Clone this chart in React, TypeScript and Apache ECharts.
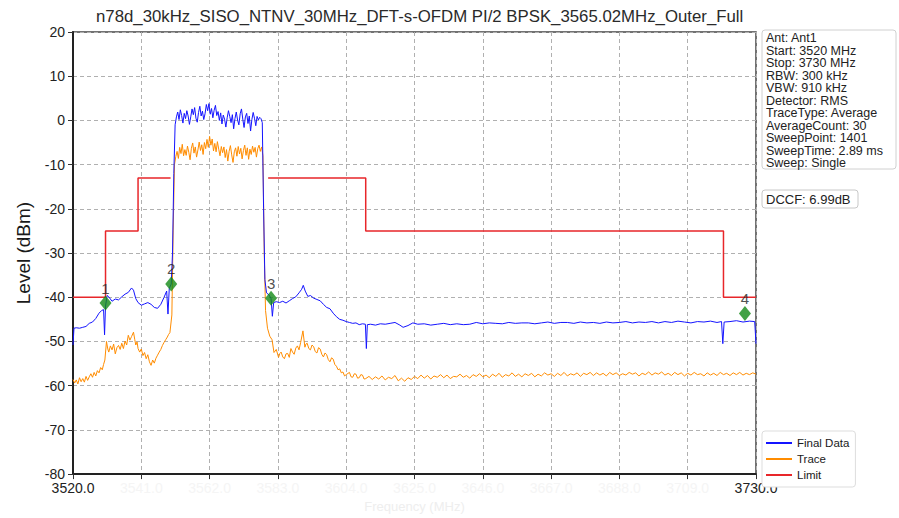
import React, { useEffect, useRef } from "react";
import * as echarts from "echarts";

const TITLE = "n78d_30kHz_SISO_NTNV_30MHz_DFT-s-OFDM PI/2 BPSK_3565.02MHz_Outer_Full";
const START_FREQ = 3520;
const STOP_FREQ = 3730;

// Final Data trace [MHz, dBm]
const finalData: [number, number][] = [
  [3520.0, -50.8], [3520.3, -47.0], [3521, -46.9], [3522, -47.0], [3523, -46.8], [3524, -46.6],
  [3525, -45.9], [3526, -45.6], [3527, -44.8], [3528, -43.6], [3528.8, -43.0], [3529.4, -42.8],
  [3529.7, -48.5], [3530.0, -42.0], [3530.5, -39.6], [3531, -39.9], [3532, -40.9], [3533, -40.4],
  [3534, -40.6], [3535, -39.9], [3536, -39.3], [3537, -38.9], [3538, -37.9], [3538.6, -38.4],
  [3539.3, -40.3], [3540, -41.2], [3541, -41.8], [3542, -41.5], [3543, -41.2], [3544, -41.6],
  [3545, -42.3], [3546, -42.5], [3547, -41.6], [3548, -40.0], [3548.8, -38.6], [3549.2, -43.8],
  [3549.6, -38.0], [3550.2, -37.0], [3550.6, -30.0], [3551.0, -12.0], [3551.4, -1.0],
  [3551.8, 0.8], [3552.2, 1.9], [3552.6, 0.2], [3553.0, 2.4], [3553.4, 1.1], [3553.8, -0.6],
  [3554.2, 1.6], [3554.6, 0.4], [3555.0, 2.2], [3555.4, 1.0], [3555.8, -0.9], [3556.2, 0.8],
  [3556.6, 2.6], [3557.0, 1.3], [3557.4, 2.9], [3557.8, 0.5], [3558.2, -0.4], [3558.6, 1.8],
  [3559.0, 3.2], [3559.4, 1.0], [3559.8, 2.1], [3560.2, 0.2], [3560.6, 1.5], [3561.0, 3.6],
  [3561.4, 2.2], [3561.8, 3.8], [3562.2, 1.4], [3562.6, 2.7], [3563.0, 0.6], [3563.4, 2.3],
  [3563.8, 3.4], [3564.2, 1.1], [3564.6, 2.0], [3565.0, 0.0], [3565.4, 1.7], [3565.8, -0.8],
  [3566.2, 1.2], [3566.6, 0.3], [3567.0, -1.5], [3567.4, 0.6], [3567.8, 2.2], [3568.2, 0.9],
  [3568.6, -0.5], [3569.0, 1.3], [3569.4, -1.9], [3569.8, 0.4], [3570.2, 1.9], [3570.6, 0.1],
  [3571.0, -1.0], [3571.4, 1.5], [3571.8, 2.6], [3572.2, 0.3], [3572.6, -1.6], [3573.0, 0.8],
  [3573.4, 1.6], [3573.8, -0.7], [3574.2, 1.0], [3574.6, -2.4], [3575.0, 0.2], [3575.4, 1.8],
  [3575.8, 0.5], [3576.2, -1.2], [3576.6, 0.9], [3577.0, 0.1], [3577.4, 0.7], [3577.8, 0.4],
  [3578.2, -0.5], [3578.6, -20.0], [3579.0, -36.0], [3579.5, -39.0], [3580.3, -39.5],
  [3580.9, -40.3], [3581.3, -44.3], [3581.7, -41.2], [3582.5, -41.0], [3583.5, -41.2],
  [3584.5, -40.9], [3585.5, -41.3], [3586.5, -40.8], [3587.5, -40.3], [3588.5, -39.9],
  [3589.5, -39.0], [3590.3, -38.2], [3590.8, -37.3], [3591.4, -38.6], [3592.2, -39.8],
  [3593, -39.6], [3594, -40.2], [3595, -40.5], [3596, -40.8], [3597, -41.6], [3598, -42.3],
  [3599, -42.6], [3600, -43.6], [3601, -44.4], [3602, -45.0], [3603, -45.2], [3604, -45.5],
  [3605, -45.7], [3606, -45.9], [3607, -45.8], [3608, -46.2], [3609, -46.0], [3609.9, -46.1],
  [3610.2, -51.6], [3610.5, -46.2], [3611.5, -46.1], [3613, -46.3], [3614.5, -46.0], [3616, -46.1],
  [3617.5, -45.9], [3619, -45.7], [3620.5, -46.3], [3621.5, -46.8], [3623, -46.4], [3624.5, -45.8],
  [3626, -46.1], [3628, -46.0], [3630, -46.3], [3632, -46.1], [3634, -45.9], [3636, -46.2],
  [3638, -46.0], [3640, -46.2], [3642, -46.1], [3644, -45.7], [3646, -46.0], [3648, -45.8],
  [3650, -45.9], [3652, -46.0], [3654, -45.7], [3656, -45.9], [3658, -45.8], [3660, -45.8],
  [3662, -46.0], [3664, -45.8], [3666, -45.6], [3668, -45.9], [3670, -45.7], [3672, -45.7],
  [3674, -45.9], [3676, -45.6], [3678, -45.8], [3680, -45.7], [3682, -45.9], [3684, -45.6],
  [3686, -45.8], [3688, -45.7], [3690, -45.5], [3692, -45.8], [3694, -45.6], [3696, -45.7],
  [3698, -45.5], [3700, -45.8], [3702, -45.5], [3704, -45.7], [3706, -45.4], [3708, -45.6],
  [3710, -45.8], [3712, -45.5], [3714, -45.6], [3716, -45.4], [3718, -45.7], [3719.4, -45.5],
  [3719.8, -50.5], [3720.2, -45.6], [3722, -45.5], [3724, -45.3], [3726, -45.6], [3728, -45.4],
  [3729.6, -45.5], [3730, -50.5],
];

// Trace [MHz, dBm]
const traceData: [number, number][] = [
  [3520, -58.6], [3520.5, -59.4], [3521, -58.7], [3521.5, -59.6], [3522, -58.2], [3522.5, -59.1],
  [3523, -58.4], [3523.5, -59.2], [3524, -57.9], [3524.5, -58.8], [3525, -58.0], [3525.5, -57.3],
  [3526, -58.1], [3526.5, -57.0], [3527, -57.8], [3527.5, -56.6], [3528, -57.1], [3528.5, -55.9],
  [3529, -56.4], [3529.4, -55.2], [3529.8, -54.2], [3530.3, -50.0], [3530.7, -51.7],
  [3531, -52.4], [3531.5, -51.0], [3532, -51.9], [3532.5, -50.6], [3533, -52.8], [3533.5, -51.4],
  [3534, -50.9], [3534.5, -51.8], [3535, -50.4], [3535.5, -51.6], [3536, -49.9], [3536.5, -50.8],
  [3537, -48.6], [3537.5, -49.7], [3538, -48.9], [3538.6, -47.9], [3539.0, -49.6], [3539.3, -50.8],
  [3539.7, -50.1], [3540, -51.6], [3540.5, -52.4], [3541, -51.7], [3541.5, -53.2],
  [3542, -52.5], [3542.5, -53.9], [3543, -53.0], [3543.5, -54.6], [3544, -55.4], [3544.5, -54.2],
  [3545, -54.9], [3545.5, -53.8], [3546, -53.1], [3546.5, -52.4], [3547, -51.8], [3547.5, -50.9],
  [3548, -50.2], [3548.5, -49.6], [3549, -49.0], [3549.4, -48.4], [3549.8, -48.0], [3550.4, -44.0],
  [3550.8, -25.0], [3551.2, -10.0],
  [3551.6, -8.2], [3552.0, -7.0], [3552.4, -8.6], [3552.8, -6.1], [3553.2, -7.5], [3553.6, -5.4],
  [3554.0, -8.0], [3554.4, -6.6], [3554.8, -7.9], [3555.2, -5.8], [3555.6, -7.2], [3556.0, -8.9],
  [3556.4, -6.3], [3556.8, -5.1], [3557.2, -7.4], [3557.6, -6.0], [3558.0, -8.3], [3558.4, -6.7],
  [3558.8, -4.9], [3559.2, -6.8], [3559.6, -5.5], [3560.0, -7.7], [3560.4, -5.0], [3560.8, -6.4],
  [3561.2, -4.3], [3561.6, -6.1], [3562.0, -3.6], [3562.4, -5.6], [3562.8, -4.2], [3563.2, -6.9],
  [3563.6, -5.2], [3564.0, -7.1], [3564.4, -4.8], [3564.8, -6.5], [3565.2, -8.0], [3565.6, -5.9],
  [3566.0, -7.3], [3566.4, -6.0], [3566.8, -8.4], [3567.2, -6.6], [3567.6, -9.2], [3568.0, -7.0],
  [3568.4, -5.7], [3568.8, -7.8], [3569.2, -9.5], [3569.6, -7.1], [3570.0, -6.2], [3570.4, -8.1],
  [3570.8, -5.9], [3571.2, -7.6], [3571.6, -6.3], [3572.0, -8.7], [3572.4, -6.8], [3572.8, -5.6],
  [3573.2, -7.9], [3573.6, -6.2], [3574.0, -8.8], [3574.4, -6.5], [3574.8, -7.7], [3575.2, -5.8],
  [3575.6, -7.2], [3576.0, -6.1], [3576.4, -8.3], [3576.8, -6.4], [3577.2, -5.6], [3577.6, -7.0],
  [3578.0, -6.0], [3578.4, -8.0], [3578.8, -30.0], [3579.2, -43.0], [3579.8, -47.0], [3580.5, -48.8],
  [3581.2, -49.6], [3581.8, -52.5], [3582.5, -51.8], [3583.2, -53.6], [3583.6, -52.7], [3584, -52.4],
  [3584.5, -53.5], [3585, -53.9], [3585.5, -52.8], [3586, -52.7], [3586.5, -53.6], [3587, -51.6],
  [3587.5, -52.4], [3588, -52.9], [3588.5, -51.5], [3589, -51.0], [3589.5, -51.9], [3590, -50.2],
  [3590.7, -47.6], [3591.3, -51.3], [3591.6, -50.6], [3592, -50.4], [3592.5, -51.6], [3593, -51.9],
  [3593.5, -50.8], [3594, -51.2], [3594.5, -52.3], [3595, -52.6], [3595.5, -51.4], [3596, -51.7],
  [3596.5, -52.9], [3597, -53.5], [3597.5, -52.6], [3598, -53.0], [3598.5, -54.1], [3599, -54.6],
  [3599.5, -53.7], [3600, -54.0], [3600.5, -55.2], [3601, -55.6], [3601.5, -56.4], [3602, -56.2],
  [3602.5, -57.1], [3603, -56.9], [3603.5, -57.8], [3604, -57.5], [3605, -57.0], [3605.5, -58.0],
  [3606, -58.1], [3606.5, -57.3], [3607, -57.4], [3607.5, -58.3], [3608, -58.2], [3608.5, -57.5],
  [3609, -57.6], [3609.5, -58.5], [3610, -58.4], [3611, -57.9], [3612, -58.6], [3613, -58.0],
  [3614, -58.5], [3615, -57.8], [3616, -58.7], [3617, -58.1], [3618, -58.4], [3619, -57.7],
  [3620, -58.9], [3621, -58.3], [3622, -59.0], [3623, -58.2], [3624, -58.6], [3625, -57.9],
  [3626, -58.4], [3627, -57.6], [3628, -58.3], [3629, -57.7], [3630, -58.5], [3631, -57.8],
  [3632, -58.1], [3633, -57.5], [3634, -58.2], [3635, -57.6], [3636, -58.4], [3637, -57.9],
  [3638, -58.0], [3639, -57.4], [3640, -58.1], [3641, -57.7], [3642, -58.3], [3643, -57.5],
  [3644, -57.9], [3645, -57.3], [3646, -58.0], [3647, -57.6], [3648, -58.2], [3649, -57.4],
  [3650, -57.9], [3651, -57.2], [3652, -58.1], [3653, -57.5], [3654, -57.8], [3655, -57.1],
  [3656, -57.9], [3657, -57.4], [3658, -58.0], [3659, -57.3], [3660, -57.7], [3661, -57.2],
  [3662, -58.0], [3663, -57.4], [3664, -57.8], [3665, -57.1], [3666, -57.6], [3667, -57.3],
  [3668, -57.9], [3669, -57.2], [3670, -57.7], [3671, -57.0], [3672, -57.8], [3673, -57.3],
  [3674, -57.6], [3675, -57.1], [3676, -57.9], [3677, -57.2], [3678, -57.5], [3679, -57.0],
  [3680, -57.7], [3681, -57.1], [3682, -57.6], [3683, -57.2], [3684, -57.8], [3685, -57.0],
  [3686, -57.5], [3687, -57.1], [3688, -57.7], [3689, -57.3], [3690, -57.6], [3691, -57.0],
  [3692, -57.4], [3693, -57.1], [3694, -57.8], [3695, -57.2], [3696, -57.5], [3697, -56.9],
  [3698, -57.6], [3699, -57.1], [3700, -57.4], [3701, -56.9], [3702, -57.6], [3703, -57.2],
  [3704, -57.7], [3705, -57.0], [3706, -57.5], [3707, -57.1], [3708, -57.8], [3709, -57.2],
  [3710, -57.6], [3711, -57.0], [3712, -57.5], [3713, -57.3], [3714, -57.8], [3715, -57.1],
  [3716, -57.6], [3717, -57.2], [3718, -57.7], [3719, -57.0], [3720, -57.5], [3721, -57.2],
  [3722, -57.7], [3723, -57.1], [3724, -57.5], [3725, -57.0], [3726, -57.6], [3727, -57.2],
  [3728, -57.5], [3729, -57.1], [3730, -57.4],
];

// Limit [MHz, dBm] ('-' = gap)
const limitData: [number, number | string][] = [
  [3520, -40], [3530, -40], [3530, -25], [3540, -25], [3540, -13], [3550, -13],
  [3565, "-"],
  [3580, -13], [3610, -13], [3610, -25], [3720, -25], [3720, -40], [3730, -40],
];

const markerNames = ["1", "2", "3", "4"];
const markerFreqs = [3530.0, 3550.2, 3580.9, 3726.6];
const markerLevels = [-41.3, -37.0, -40.2, -43.7];

const infoLines = [
  "Ant: Ant1",
  "Start: 3520 MHz",
  "Stop: 3730 MHz",
  "RBW: 300 kHz",
  "VBW: 910 kHz",
  "Detector: RMS",
  "TraceType: Average",
  "AverageCount: 30",
  "SweepPoint: 1401",
  "SweepTime: 2.89 ms",
  "Sweep: Single",
];
const dccfText = "DCCF: 6.99dB";

const FONT = "'Liberation Sans', Arial, Helvetica, sans-serif";

const toOffset = (pts: [number, number | string][]) =>
  pts.map(([f, v]) => [f - START_FREQ, v]);

export default function App() {
  const ref = useRef<HTMLDivElement>(null);
  useEffect(() => {
    if (!ref.current) return;
    const chart = echarts.init(ref.current, null, { renderer: "svg" });
    const span = STOP_FREQ - START_FREQ;
    chart.setOption({
      animation: false,
      backgroundColor: "#ffffff",
      textStyle: { fontFamily: FONT },
      title: {
        text: TITLE,
        left: 91,
        top: 3,
        textStyle: { fontSize: 16.8, fontWeight: "normal", color: "#2a2a2a", fontFamily: FONT },
      },
      grid: {
        left: 73,
        right: 143,
        top: 32,
        bottom: 28,
        show: true,
        borderColor: "#444",
        borderWidth: 1.5,
        backgroundColor: "transparent",
      },
      legend: {
        orient: "vertical",
        left: 762,
        top: 431,
        data: ["Final Data", "Trace", "Limit"],
        icon: "rect",
        itemWidth: 26,
        itemHeight: 2,
        itemGap: 4,
        itemTextGap: 9,
        padding: [6, 6, 6, 4],
        backgroundColor: "#ffffff",
        borderColor: "#dddddd",
        borderWidth: 1,
        borderRadius: 3,
        textStyle: { fontSize: 11.5, color: "#1a1a1a", fontFamily: FONT },
      },
      xAxis: {
        type: "value",
        min: 0,
        max: span,
        interval: 21,
        axisLine: { show: true, onZero: false, lineStyle: { color: "#222", width: 2 } },
        axisTick: { show: true, inside: false, length: 5, lineStyle: { color: "#333" } },
        splitLine: { show: true, lineStyle: { color: "#b0b0b0", type: [4, 3], width: 1 } },
        axisLabel: {
          margin: 7,
          formatter: (v: number) => {
            const s = (START_FREQ + v).toFixed(1);
            return v === 0 || v === span ? `{d|${s}}` : `{f|${s}}`;
          },
          rich: {
            d: { fontSize: 14, color: "#222", fontFamily: FONT },
            f: { fontSize: 14, color: "#f5f5f5", fontFamily: FONT },
          },
        },
        name: "Frequency (MHz)",
        nameLocation: "middle",
        nameGap: 17,
        nameTextStyle: { fontSize: 13, color: "#eeeeee", fontFamily: FONT },
      },
      yAxis: {
        type: "value",
        min: -80,
        max: 20,
        interval: 10,
        axisLine: { show: true, onZero: false, lineStyle: { color: "#222", width: 2 } },
        axisTick: { show: true, inside: false, length: 5, lineStyle: { color: "#333" } },
        splitLine: { show: true, lineStyle: { color: "#b0b0b0", type: [4, 3], width: 1 } },
        axisLabel: { fontSize: 14, color: "#222", margin: 8, fontFamily: FONT },
        name: "Level (dBm)",
        nameLocation: "middle",
        nameGap: 40,
        nameRotate: 90,
        nameTextStyle: { fontSize: 19, color: "#1a1a1a", fontFamily: FONT },
      },
      series: [
        {
          name: "Final Data",
          type: "line",
          data: toOffset(finalData),
          showSymbol: false,
          lineStyle: { color: "#1414ff", width: 1 },
          itemStyle: { color: "#1414ff" },
          z: 3,
        },
        {
          name: "Trace",
          type: "line",
          data: toOffset(traceData),
          showSymbol: false,
          lineStyle: { color: "#ff8c00", width: 1 },
          itemStyle: { color: "#ff8c00" },
          z: 2,
        },
        {
          name: "Limit",
          type: "line",
          data: toOffset(limitData),
          showSymbol: false,
          connectNulls: false,
          lineStyle: { color: "#e8262a", width: 1.5 },
          itemStyle: { color: "#e8262a" },
          z: 4,
        },
        {
          name: "Markers",
          type: "scatter",
          data: markerFreqs.map((f, i) => ({
            value: [f - START_FREQ, markerLevels[i]],
            name: markerNames[i],
          })),
          symbol: "diamond",
          symbolSize: [12, 15],
          itemStyle: { color: "#138a17" },
          label: {
            show: true,
            position: "top",
            distance: 0,
            formatter: (p: any) => p.name,
            fontSize: 15,
            color: "#222",
            fontFamily: FONT,
          },
          z: 6,
        },
      ],
      graphic: [
        {
          type: "rect",
          shape: { x: 762, y: 30, width: 134, height: 139, r: 3 },
          style: { fill: "#ffffff", stroke: "#d0d0d0", lineWidth: 1 },
          z: 10,
        },
        {
          type: "text",
          x: 766,
          y: 32,
          style: {
            text: infoLines.join("\n"),
            fontSize: 12.5,
            lineHeight: 12.5,
            fill: "#222",
            fontFamily: FONT,
            textVerticalAlign: "top",
          },
          z: 11,
        },
        {
          type: "rect",
          shape: { x: 762, y: 190, width: 96, height: 18, r: 3 },
          style: { fill: "#ffffff", stroke: "#c8c8c8", lineWidth: 1 },
          z: 10,
        },
        {
          type: "text",
          x: 766,
          y: 193,
          style: {
            text: dccfText,
            fontSize: 13,
            fill: "#222",
            fontFamily: FONT,
            textVerticalAlign: "top",
          },
          z: 11,
        },
      ],
    });
    return () => chart.dispose();
  }, []);
  return (
    <div
      ref={ref}
      style={{ position: "absolute", left: 0, top: 0, width: 899, height: 518 }}
    />
  );
}
